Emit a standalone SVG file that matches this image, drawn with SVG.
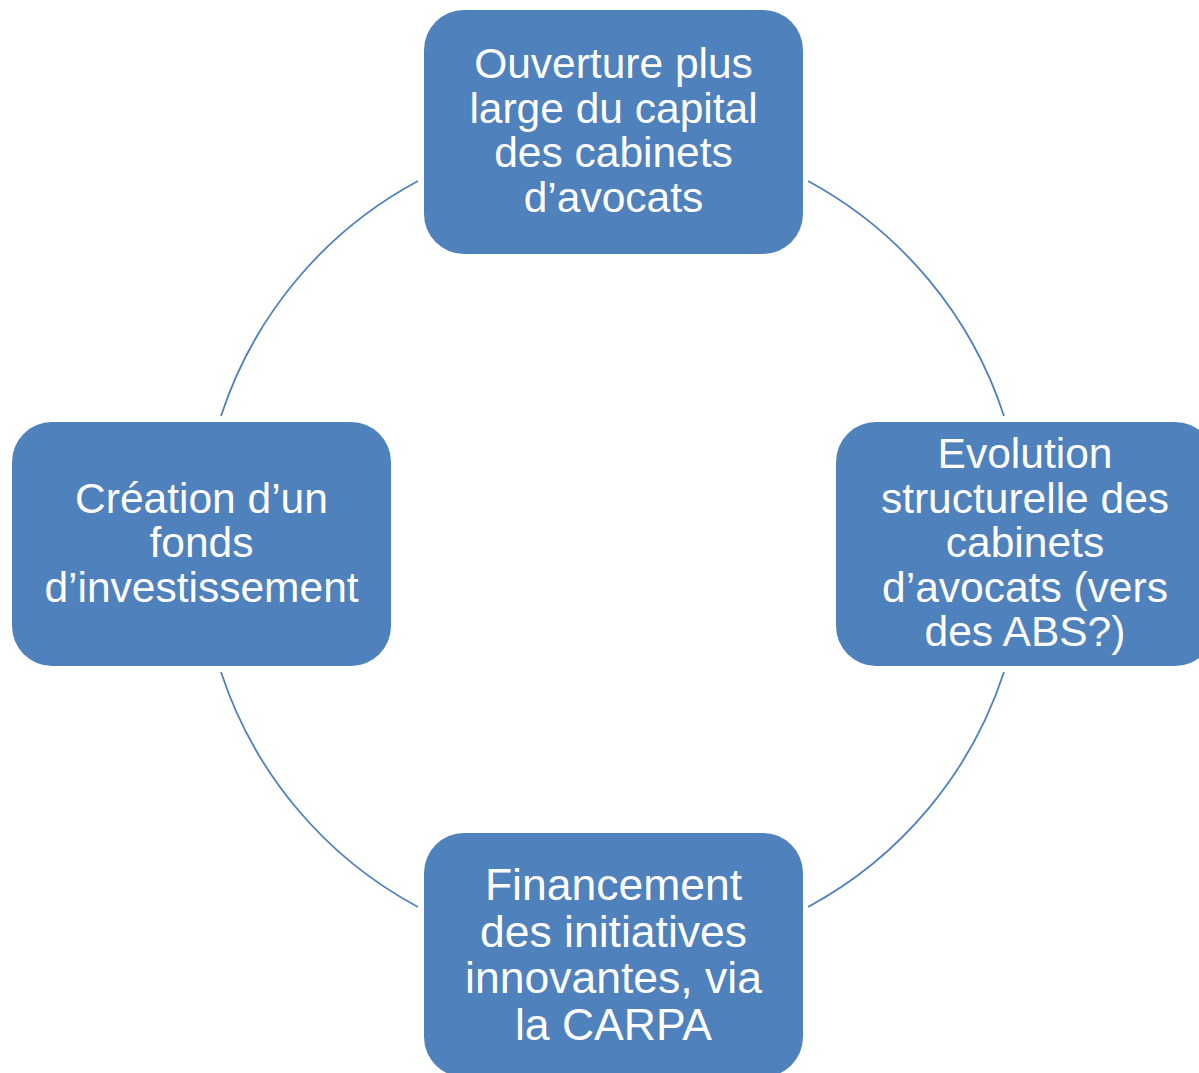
<svg xmlns="http://www.w3.org/2000/svg" width="1199" height="1073" viewBox="0 0 1199 1073">
<style>
.box{fill:#4F81BD;}
.lbl{font-family:"Liberation Sans",Arial,sans-serif;font-size:42.5px;fill:#FFFFFF;text-anchor:middle;}
.big{font-size:44.5px;}
.arc{fill:none;stroke:#4F81BD;stroke-width:1.8;}
</style>
<rect width="1199" height="1073" fill="#FFFFFF"/>
<g id="connectors">
<path class="arc" d="M808,181 A412,412 0 0 1 1004,416"/>
<path class="arc" d="M1004,672 A412,412 0 0 1 808,907"/>
<path class="arc" d="M418,907 A412,412 0 0 1 221,672"/>
<path class="arc" d="M221,416 A412,412 0 0 1 418,181"/>
</g>
<g id="node-top">
<rect class="box" x="424" y="10" width="379" height="244" rx="40" ry="40"/>
<text class="lbl" x="613.5"><tspan x="613.5" y="78">Ouverture plus</tspan><tspan x="613.5" y="122.5">large du capital</tspan><tspan x="613.5" y="167">des cabinets</tspan><tspan x="613.5" y="211.5">d’avocats</tspan></text>
</g>
<g id="node-right">
<rect class="box" x="836" y="422" width="379" height="244" rx="40" ry="40"/>
<text class="lbl" x="1025"><tspan x="1025" y="468">Evolution</tspan><tspan x="1025" y="512.5">structurelle des</tspan><tspan x="1025" y="557">cabinets</tspan><tspan x="1025" y="601.5">d’avocats (vers</tspan><tspan x="1025" y="646">des ABS?)</tspan></text>
</g>
<g id="node-bottom">
<rect class="box" x="424" y="833" width="379" height="244" rx="40" ry="40"/>
<text class="lbl big" x="613.5"><tspan x="613.5" y="900">Financement</tspan><tspan x="613.5" y="946.7">des initiatives</tspan><tspan x="613.5" y="993.4">innovantes, via</tspan><tspan x="613.5" y="1040">la CARPA</tspan></text>
</g>
<g id="node-left">
<rect class="box" x="12" y="422" width="379" height="244" rx="40" ry="40"/>
<text class="lbl" x="201.5"><tspan x="201.5" y="512.5">Création d’un</tspan><tspan x="201.5" y="557">fonds</tspan><tspan x="201.5" y="601.5">d’investissement</tspan></text>
</g>
</svg>
